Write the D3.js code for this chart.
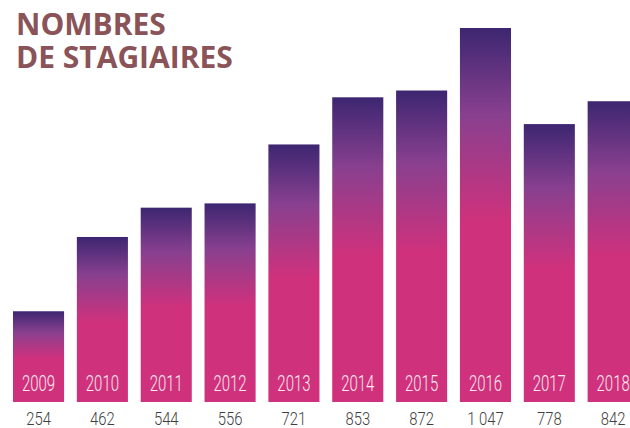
<!DOCTYPE html>
<html>
<head>
<meta charset="utf-8">
<script src="https://cdn.jsdelivr.net/npm/d3@7"></script>
<style>
  body { margin: 0; background: #fff; }
  svg { display: block; }
</style>
</head>
<body>
<div class="chart"></div>
<script>
// data
const years = ["2009", "2010", "2011", "2012", "2013", "2014", "2015", "2016", "2017", "2018"];
const trainees = [254, 462, 544, 556, 721, 853, 872, 1047, 778, 842];
const valueLabels = ["254", "462", "544", "556", "721", "853", "872", "1 047", "778", "842"];
const titleLines = ["NOMBRES", "DE STAGIAIRES"];

const width = 630, height = 428;

const svg = d3.select(".chart")
  .append("svg")
  .attr("width", width)
  .attr("height", height);

// gradient: dark purple at top, magenta from the middle down
const grad = svg.append("defs")
  .append("linearGradient")
  .attr("id", "barGrad")
  .attr("x1", 0).attr("y1", 0)
  .attr("x2", 0).attr("y2", 1);
grad.append("stop").attr("offset", "0%").attr("stop-color", "#3d2671");
grad.append("stop").attr("offset", "23%").attr("stop-color", "#88408f");
grad.append("stop").attr("offset", "52%").attr("stop-color", "#d0317c");
grad.append("stop").attr("offset", "100%").attr("stop-color", "#d0317c");

const xScale = d3.scaleBand()
  .domain(years)
  .range([13, 638.7])
  .paddingInner(0.2)
  .paddingOuter(0);

const yScale = d3.scaleLinear()
  .domain([0, 1047])
  .range([402, 28]);

const data = years.map((y, i) => ({ year: y, value: trainees[i], label: valueLabels[i] }));

// bars
svg.selectAll("rect.bar")
  .data(data)
  .join("rect")
  .attr("class", "bar")
  .attr("x", d => xScale(d.year))
  .attr("y", d => yScale(d.value))
  .attr("width", xScale.bandwidth())
  .attr("height", d => yScale(0) - yScale(d.value))
  .attr("fill", "url(#barGrad)");

// year inside bar (thin condensed digits)
svg.selectAll("text.year")
  .data(data)
  .join("text")
  .attr("class", "year")
  .attr("transform", d => `translate(${xScale(d.year) + xScale.bandwidth() / 2},391) scale(0.68,1)`)
  .attr("text-anchor", "middle")
  .attr("fill", "#fbe8f1")
  .style("font-family", "Roboto, sans-serif")
  .style("font-weight", 300)
  .style("font-size", "22px")
  .text(d => d.year);

// value under bar
svg.selectAll("text.value")
  .data(data)
  .join("text")
  .attr("class", "value")
  .attr("transform", d => `translate(${xScale(d.year) + xScale.bandwidth() / 2},425) scale(0.78,1)`)
  .attr("text-anchor", "middle")
  .attr("fill", "#3f3f3f")
  .style("font-family", "Roboto, sans-serif")
  .style("font-weight", 300)
  .style("font-size", "19px")
  .text(d => d.label);

// title, two lines in one text block
svg.append("text")
  .attr("x", 16)
  .attr("y", 35)
  .attr("fill", "#8a5357")
  .style("font-family", "'Open Sans', 'Noto Sans', sans-serif")
  .style("font-weight", "bold")
  .style("font-size", "30px")
  .selectAll("tspan")
  .data(titleLines)
  .join("tspan")
  .attr("x", 16)
  .attr("dy", (d, i) => i === 0 ? 0 : 33)
  .text(d => d);
</script>
</body>
</html>
